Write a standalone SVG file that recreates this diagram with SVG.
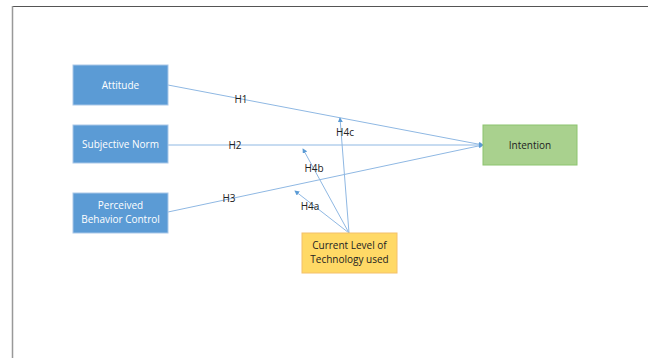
<svg xmlns="http://www.w3.org/2000/svg" width="648" height="358" viewBox="0 0 648 358">
<style>
.b{fill:#5b9bd5;stroke:#a9c7e8;stroke-width:1}
.bt{fill:#ffffff;font-family:"Open Sans","Liberation Sans",sans-serif;font-size:10px;text-anchor:middle}
.dt{fill:#222;font-family:"Open Sans","Liberation Sans",sans-serif;font-size:10px;text-anchor:middle}
.c{stroke:#8fb8e3;stroke-width:1;fill:none}
.l{fill:#222;font-family:"Open Sans","Liberation Sans",sans-serif;font-size:10px;text-anchor:middle}
</style>
<defs>
<marker id="a" viewBox="0 0 6 6" refX="5" refY="3" markerWidth="5" markerHeight="5" orient="auto" markerUnits="userSpaceOnUse">
<path d="M0,0 L6,3 L0,6 z" fill="#5b9bd5"/>
</marker>
</defs>
<rect width="648" height="358" fill="#fff"/>
<line x1="12" y1="6.5" x2="648" y2="6.5" stroke="#555" stroke-width="1"/>
<line x1="12.5" y1="6" x2="12.5" y2="358" stroke="#999" stroke-width="1.5"/>
<g id="connectors">
<line class="c" x1="168" y1="85" x2="483" y2="145" marker-end="url(#a)"/>
<line class="c" x1="168" y1="145" x2="483" y2="145" marker-end="url(#a)"/>
<line class="c" x1="168" y1="212" x2="483" y2="145" marker-end="url(#a)"/>
<line class="c" x1="349" y1="233" x2="340" y2="118" marker-end="url(#a)"/>
<line class="c" x1="349" y1="233" x2="303" y2="149" marker-end="url(#a)"/>
<line class="c" x1="349" y1="233" x2="295" y2="191" marker-end="url(#a)"/>
<text class="l" x="241" y="103">H1</text>
<text class="l" x="235" y="149">H2</text>
<text class="l" x="229" y="202">H3</text>
<text class="l" x="345" y="136">H4c</text>
<text class="l" x="314" y="172">H4b</text>
<text class="l" x="310" y="210">H4a</text>
</g>
<g id="attitude"><rect class="b" x="73" y="65" width="95" height="40"/><text class="bt" x="120.5" y="89">Attitude</text></g>
<g id="subjective-norm"><rect class="b" x="73" y="125" width="95" height="38"/><text class="bt" x="120.5" y="148">Subjective Norm</text></g>
<g id="pbc"><rect class="b" x="73" y="193" width="95" height="40"/><text class="bt" x="120.5" y="209">Perceived</text><text class="bt" x="120.5" y="223">Behavior Control</text></g>
<g id="intention"><rect x="483" y="125" width="94" height="40" fill="#a9d18e" stroke="#8cc46e"/><text class="dt" x="530" y="149">Intention</text></g>
<g id="current-level"><rect x="302" y="233" width="95" height="40" fill="#ffd966" stroke="#f4c06a"/><text class="dt" x="349.5" y="249">Current Level of</text><text class="dt" x="349.5" y="263">Technology used</text></g>
</svg>
